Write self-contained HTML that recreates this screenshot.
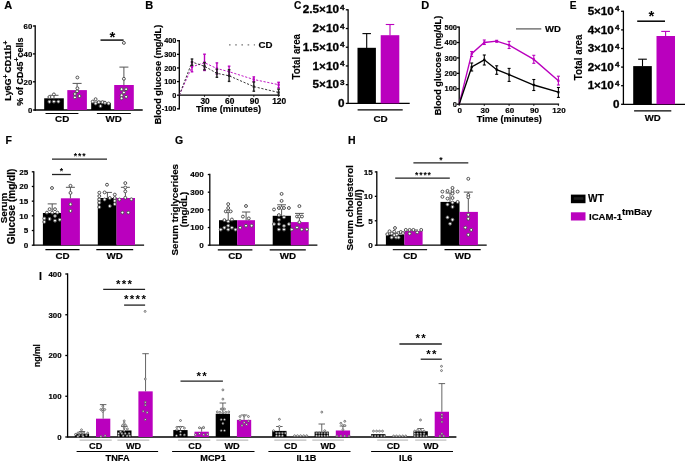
<!DOCTYPE html>
<html><head><meta charset="utf-8"><title>Figure</title>
<style>
html,body{margin:0;padding:0;background:#fff;}
svg{display:block;will-change:transform;font-family:"Liberation Sans",sans-serif;}
</style></head>
<body>
<svg width="685" height="462" viewBox="0 0 685 462">
<rect width="685" height="462" fill="#fff"/>
<text transform="translate(4.20 8.90)" font-size="11" text-anchor="start" font-weight="bold" fill="#000"  stroke="#000" stroke-width="0.18">A</text>
<text transform="translate(145.30 8.90)" font-size="11" text-anchor="start" font-weight="bold" fill="#000"  stroke="#000" stroke-width="0.18">B</text>
<text transform="translate(294.00 8.60)" font-size="10.2" text-anchor="start" font-weight="bold" fill="#000"  stroke="#000" stroke-width="0.18">C</text>
<text transform="translate(421.30 8.90)" font-size="11" text-anchor="start" font-weight="bold" fill="#000"  stroke="#000" stroke-width="0.18">D</text>
<text transform="translate(569.80 8.60)" font-size="10.2" text-anchor="start" font-weight="bold" fill="#000"  stroke="#000" stroke-width="0.18">E</text>
<text transform="translate(5.60 143.70)" font-size="10.5" text-anchor="start" font-weight="bold" fill="#000"  stroke="#000" stroke-width="0.18">F</text>
<text transform="translate(175.00 143.70)" font-size="10.5" text-anchor="start" font-weight="bold" fill="#000"  stroke="#000" stroke-width="0.18">G</text>
<text transform="translate(348.00 143.70)" font-size="10.5" text-anchor="start" font-weight="bold" fill="#000"  stroke="#000" stroke-width="0.18">H</text>
<text transform="translate(39.00 280.30)" font-size="10.5" text-anchor="start" font-weight="bold" fill="#000"  stroke="#000" stroke-width="0.18">I</text>
<line x1="35.20" y1="25.35" x2="35.20" y2="110.65" stroke="#000" stroke-width="1.3" />
<line x1="32.90" y1="26.00" x2="35.20" y2="26.00" stroke="#000" stroke-width="1.3" />
<text transform="translate(32.30 28.80)" font-size="7.8" text-anchor="end" font-weight="bold" fill="#000"  stroke="#000" stroke-width="0.18">60</text>
<line x1="32.90" y1="53.90" x2="35.20" y2="53.90" stroke="#000" stroke-width="1.3" />
<text transform="translate(32.30 56.70)" font-size="7.8" text-anchor="end" font-weight="bold" fill="#000"  stroke="#000" stroke-width="0.18">40</text>
<line x1="32.90" y1="81.80" x2="35.20" y2="81.80" stroke="#000" stroke-width="1.3" />
<text transform="translate(32.30 84.60)" font-size="7.8" text-anchor="end" font-weight="bold" fill="#000"  stroke="#000" stroke-width="0.18">20</text>
<line x1="32.90" y1="110.00" x2="35.20" y2="110.00" stroke="#000" stroke-width="1.3" />
<text transform="translate(32.30 112.80)" font-size="7.8" text-anchor="end" font-weight="bold" fill="#000"  stroke="#000" stroke-width="0.18">0</text>
<line x1="34.55" y1="110.00" x2="142.70" y2="110.00" stroke="#000" stroke-width="1.3" />
<text transform="translate(11.20 70.70) rotate(-90)" font-size="9.0" text-anchor="middle" font-weight="bold" fill="#000"  stroke="#000" stroke-width="0.18">Ly6G<tspan font-size="7" dy="-3.2">+</tspan><tspan dy="3.2" dx="1.6">CD11b</tspan><tspan font-size="7" dy="-3.2">+</tspan></text>
<text transform="translate(22.60 71.70) rotate(-90)" font-size="8.95" text-anchor="middle" font-weight="bold" fill="#000"  stroke="#000" stroke-width="0.18">% of CD45<tspan font-size="7" dy="-3.2">+</tspan><tspan dy="3.2">cells</tspan></text>
<rect x="44.20" y="98.30" width="19.60" height="11.70" fill="#000"/>
<rect x="67.30" y="90.10" width="19.60" height="19.90" fill="#BA00BE"/>
<rect x="91.20" y="102.90" width="19.60" height="7.10" fill="#000"/>
<rect x="114.20" y="85.00" width="19.60" height="25.00" fill="#BA00BE"/>
<line x1="54.00" y1="95.30" x2="54.00" y2="98.50" stroke="#555" stroke-width="1.0" />
<line x1="49.50" y1="95.30" x2="58.50" y2="95.30" stroke="#555" stroke-width="1.0" />
<line x1="77.10" y1="83.40" x2="77.10" y2="90.30" stroke="#555" stroke-width="1.0" />
<line x1="72.60" y1="83.40" x2="81.60" y2="83.40" stroke="#555" stroke-width="1.0" />
<line x1="101.00" y1="101.30" x2="101.00" y2="103.00" stroke="#555" stroke-width="1.0" />
<line x1="96.50" y1="101.30" x2="105.50" y2="101.30" stroke="#555" stroke-width="1.0" />
<line x1="123.90" y1="67.10" x2="123.90" y2="85.20" stroke="#555" stroke-width="1.0" />
<line x1="119.40" y1="67.10" x2="128.40" y2="67.10" stroke="#555" stroke-width="1.0" />
<circle cx="49.40" cy="101.80" r="1.45" fill="#fff" stroke="#505050" stroke-width="1.0"/>
<circle cx="53.90" cy="101.60" r="1.45" fill="#fff" stroke="#505050" stroke-width="1.0"/>
<circle cx="58.40" cy="101.60" r="1.45" fill="#fff" stroke="#505050" stroke-width="1.0"/>
<circle cx="49.40" cy="97.00" r="1.45" fill="#fff" stroke="#505050" stroke-width="1.0"/>
<circle cx="53.90" cy="94.40" r="1.45" fill="#fff" stroke="#505050" stroke-width="1.0"/>
<circle cx="74.90" cy="97.40" r="1.45" fill="#fff" stroke="#505050" stroke-width="1.0"/>
<circle cx="79.50" cy="96.10" r="1.45" fill="#fff" stroke="#505050" stroke-width="1.0"/>
<circle cx="74.90" cy="94.00" r="1.45" fill="#fff" stroke="#505050" stroke-width="1.0"/>
<circle cx="77.10" cy="91.20" r="1.45" fill="#fff" stroke="#505050" stroke-width="1.0"/>
<circle cx="77.40" cy="88.30" r="1.45" fill="#fff" stroke="#505050" stroke-width="1.0"/>
<circle cx="77.40" cy="77.50" r="1.45" fill="#fff" stroke="#505050" stroke-width="1.0"/>
<circle cx="92.70" cy="101.60" r="1.45" fill="#fff" stroke="#505050" stroke-width="1.0"/>
<circle cx="95.60" cy="99.20" r="1.45" fill="#fff" stroke="#505050" stroke-width="1.0"/>
<circle cx="95.60" cy="103.50" r="1.45" fill="#fff" stroke="#505050" stroke-width="1.0"/>
<circle cx="98.80" cy="102.20" r="1.45" fill="#fff" stroke="#505050" stroke-width="1.0"/>
<circle cx="100.50" cy="106.10" r="1.45" fill="#fff" stroke="#505050" stroke-width="1.0"/>
<circle cx="102.50" cy="102.20" r="1.45" fill="#fff" stroke="#505050" stroke-width="1.0"/>
<circle cx="105.00" cy="102.90" r="1.45" fill="#fff" stroke="#505050" stroke-width="1.0"/>
<circle cx="108.60" cy="103.50" r="1.45" fill="#fff" stroke="#505050" stroke-width="1.0"/>
<circle cx="121.60" cy="89.20" r="1.45" fill="#fff" stroke="#505050" stroke-width="1.0"/>
<circle cx="126.10" cy="89.20" r="1.45" fill="#fff" stroke="#505050" stroke-width="1.0"/>
<circle cx="123.90" cy="92.50" r="1.45" fill="#fff" stroke="#505050" stroke-width="1.0"/>
<circle cx="121.60" cy="95.30" r="1.45" fill="#fff" stroke="#505050" stroke-width="1.0"/>
<circle cx="126.10" cy="96.80" r="1.45" fill="#fff" stroke="#505050" stroke-width="1.0"/>
<circle cx="121.60" cy="98.30" r="1.45" fill="#fff" stroke="#505050" stroke-width="1.0"/>
<circle cx="123.90" cy="78.80" r="1.45" fill="#fff" stroke="#505050" stroke-width="1.0"/>
<circle cx="123.90" cy="42.90" r="1.45" fill="#fff" stroke="#505050" stroke-width="1.0"/>
<line x1="45.50" y1="113.50" x2="78.40" y2="113.50" stroke="#000" stroke-width="1.2" />
<line x1="96.90" y1="113.50" x2="130.80" y2="113.50" stroke="#000" stroke-width="1.2" />
<text transform="translate(62.20 122.10)" font-size="9.8" text-anchor="middle" font-weight="bold" fill="#000"  stroke="#000" stroke-width="0.18">CD</text>
<text transform="translate(113.70 122.10)" font-size="9.8" text-anchor="middle" font-weight="bold" fill="#000"  stroke="#000" stroke-width="0.18">WD</text>
<line x1="100.50" y1="40.10" x2="123.60" y2="40.10" stroke="#222" stroke-width="1.6" />
<text transform="translate(112.40 41.50)" font-size="15" text-anchor="middle" font-weight="bold" fill="#000" >*</text>
<line x1="179.30" y1="40.07" x2="179.30" y2="109.47" stroke="#000" stroke-width="1.3" />
<line x1="177.00" y1="40.72" x2="179.30" y2="40.72" stroke="#000" stroke-width="1.3" />
<text transform="translate(176.40 43.32)" font-size="7.3" text-anchor="end" font-weight="bold" fill="#000"  stroke="#000" stroke-width="0.18">400</text>
<line x1="177.00" y1="54.34" x2="179.30" y2="54.34" stroke="#000" stroke-width="1.3" />
<text transform="translate(176.40 56.94)" font-size="7.3" text-anchor="end" font-weight="bold" fill="#000"  stroke="#000" stroke-width="0.18">300</text>
<line x1="177.00" y1="67.96" x2="179.30" y2="67.96" stroke="#000" stroke-width="1.3" />
<text transform="translate(176.40 70.56)" font-size="7.3" text-anchor="end" font-weight="bold" fill="#000"  stroke="#000" stroke-width="0.18">200</text>
<line x1="177.00" y1="81.58" x2="179.30" y2="81.58" stroke="#000" stroke-width="1.3" />
<text transform="translate(176.40 84.18)" font-size="7.3" text-anchor="end" font-weight="bold" fill="#000"  stroke="#000" stroke-width="0.18">100</text>
<line x1="177.00" y1="95.20" x2="179.30" y2="95.20" stroke="#000" stroke-width="1.3" />
<text transform="translate(176.40 97.80)" font-size="7.3" text-anchor="end" font-weight="bold" fill="#000"  stroke="#000" stroke-width="0.18">0</text>
<line x1="177.00" y1="108.82" x2="179.30" y2="108.82" stroke="#000" stroke-width="1.3" />
<text transform="translate(176.40 111.42)" font-size="7.3" text-anchor="end" font-weight="bold" fill="#000"  stroke="#000" stroke-width="0.18">-100</text>
<line x1="179.30" y1="95.20" x2="279.30" y2="95.20" stroke="#000" stroke-width="1.3" />
<line x1="204.50" y1="95.20" x2="204.50" y2="96.70" stroke="#000" stroke-width="1.1" />
<text transform="translate(205.10 103.50)" font-size="8.4" text-anchor="middle" font-weight="bold" fill="#000"  stroke="#000" stroke-width="0.18">30</text>
<line x1="229.10" y1="95.20" x2="229.10" y2="96.70" stroke="#000" stroke-width="1.1" />
<text transform="translate(229.70 103.50)" font-size="8.4" text-anchor="middle" font-weight="bold" fill="#000"  stroke="#000" stroke-width="0.18">60</text>
<line x1="253.80" y1="95.20" x2="253.80" y2="96.70" stroke="#000" stroke-width="1.1" />
<text transform="translate(254.40 103.50)" font-size="8.4" text-anchor="middle" font-weight="bold" fill="#000"  stroke="#000" stroke-width="0.18">90</text>
<line x1="278.60" y1="95.20" x2="278.60" y2="96.70" stroke="#000" stroke-width="1.1" />
<text transform="translate(279.20 103.50)" font-size="8.4" text-anchor="middle" font-weight="bold" fill="#000"  stroke="#000" stroke-width="0.18">120</text>
<text transform="translate(228.50 112.00)" font-size="9.2" text-anchor="middle" font-weight="bold" fill="#000"  stroke="#000" stroke-width="0.18">Time (minutes)</text>
<text transform="translate(161.00 74.50) rotate(-90)" font-size="9.2" text-anchor="middle" font-weight="bold" fill="#000"  stroke="#000" stroke-width="0.18">Blood glucose (mg/dL)</text>
<polyline points="179.30,95.20 192.00,66.80 204.50,62.70 216.90,68.50 229.10,71.70 253.80,79.50 278.60,84.70" fill="none" stroke="#BA00BE" stroke-width="0.9" stroke-dasharray="2.2 1.6"/>
<line x1="192.00" y1="62.00" x2="192.00" y2="71.80" stroke="#BA00BE" stroke-width="1.4" />
<line x1="190.70" y1="62.00" x2="193.30" y2="62.00" stroke="#BA00BE" stroke-width="1.4" />
<line x1="190.70" y1="71.80" x2="193.30" y2="71.80" stroke="#BA00BE" stroke-width="1.4" />
<rect x="190.90" y="65.70" width="2.20" height="2.20" fill="#BA00BE"/>
<line x1="204.50" y1="54.20" x2="204.50" y2="70.50" stroke="#BA00BE" stroke-width="1.4" />
<line x1="203.20" y1="54.20" x2="205.80" y2="54.20" stroke="#BA00BE" stroke-width="1.4" />
<line x1="203.20" y1="70.50" x2="205.80" y2="70.50" stroke="#BA00BE" stroke-width="1.4" />
<rect x="203.40" y="61.60" width="2.20" height="2.20" fill="#BA00BE"/>
<line x1="216.90" y1="62.90" x2="216.90" y2="74.00" stroke="#BA00BE" stroke-width="1.4" />
<line x1="215.60" y1="62.90" x2="218.20" y2="62.90" stroke="#BA00BE" stroke-width="1.4" />
<line x1="215.60" y1="74.00" x2="218.20" y2="74.00" stroke="#BA00BE" stroke-width="1.4" />
<rect x="215.80" y="67.40" width="2.20" height="2.20" fill="#BA00BE"/>
<line x1="229.10" y1="66.20" x2="229.10" y2="75.50" stroke="#BA00BE" stroke-width="1.4" />
<line x1="227.80" y1="66.20" x2="230.40" y2="66.20" stroke="#BA00BE" stroke-width="1.4" />
<line x1="227.80" y1="75.50" x2="230.40" y2="75.50" stroke="#BA00BE" stroke-width="1.4" />
<rect x="228.00" y="70.60" width="2.20" height="2.20" fill="#BA00BE"/>
<line x1="253.80" y1="76.90" x2="253.80" y2="81.60" stroke="#BA00BE" stroke-width="1.4" />
<line x1="252.50" y1="76.90" x2="255.10" y2="76.90" stroke="#BA00BE" stroke-width="1.4" />
<line x1="252.50" y1="81.60" x2="255.10" y2="81.60" stroke="#BA00BE" stroke-width="1.4" />
<rect x="252.70" y="78.40" width="2.20" height="2.20" fill="#BA00BE"/>
<line x1="278.60" y1="82.30" x2="278.60" y2="88.00" stroke="#BA00BE" stroke-width="1.4" />
<line x1="277.30" y1="82.30" x2="279.90" y2="82.30" stroke="#BA00BE" stroke-width="1.4" />
<line x1="277.30" y1="88.00" x2="279.90" y2="88.00" stroke="#BA00BE" stroke-width="1.4" />
<rect x="277.50" y="83.60" width="2.20" height="2.20" fill="#BA00BE"/>
<polyline points="179.30,95.20 192.00,62.00 204.50,66.30 216.90,73.30 229.10,75.80 253.80,86.60 278.60,92.50" fill="none" stroke="#222" stroke-width="0.9" stroke-dasharray="2.2 1.6"/>
<line x1="192.00" y1="59.00" x2="192.00" y2="65.30" stroke="#222" stroke-width="1.4" />
<line x1="190.70" y1="59.00" x2="193.30" y2="59.00" stroke="#222" stroke-width="1.4" />
<line x1="190.70" y1="65.30" x2="193.30" y2="65.30" stroke="#222" stroke-width="1.4" />
<rect x="190.90" y="60.90" width="2.20" height="2.20" fill="#222"/>
<line x1="204.50" y1="62.50" x2="204.50" y2="69.80" stroke="#222" stroke-width="1.4" />
<line x1="203.20" y1="62.50" x2="205.80" y2="62.50" stroke="#222" stroke-width="1.4" />
<line x1="203.20" y1="69.80" x2="205.80" y2="69.80" stroke="#222" stroke-width="1.4" />
<rect x="203.40" y="65.20" width="2.20" height="2.20" fill="#222"/>
<line x1="216.90" y1="69.20" x2="216.90" y2="77.30" stroke="#222" stroke-width="1.4" />
<line x1="215.60" y1="69.20" x2="218.20" y2="69.20" stroke="#222" stroke-width="1.4" />
<line x1="215.60" y1="77.30" x2="218.20" y2="77.30" stroke="#222" stroke-width="1.4" />
<rect x="215.80" y="72.20" width="2.20" height="2.20" fill="#222"/>
<line x1="229.10" y1="69.70" x2="229.10" y2="81.40" stroke="#222" stroke-width="1.4" />
<line x1="227.80" y1="69.70" x2="230.40" y2="69.70" stroke="#222" stroke-width="1.4" />
<line x1="227.80" y1="81.40" x2="230.40" y2="81.40" stroke="#222" stroke-width="1.4" />
<rect x="228.00" y="74.70" width="2.20" height="2.20" fill="#222"/>
<line x1="253.80" y1="82.00" x2="253.80" y2="91.20" stroke="#222" stroke-width="1.4" />
<line x1="252.50" y1="82.00" x2="255.10" y2="82.00" stroke="#222" stroke-width="1.4" />
<line x1="252.50" y1="91.20" x2="255.10" y2="91.20" stroke="#222" stroke-width="1.4" />
<rect x="252.70" y="85.50" width="2.20" height="2.20" fill="#222"/>
<line x1="278.60" y1="89.20" x2="278.60" y2="95.30" stroke="#222" stroke-width="1.4" />
<line x1="277.30" y1="89.20" x2="279.90" y2="89.20" stroke="#222" stroke-width="1.4" />
<line x1="277.30" y1="95.30" x2="279.90" y2="95.30" stroke="#222" stroke-width="1.4" />
<rect x="277.50" y="91.40" width="2.20" height="2.20" fill="#222"/>
<line x1="229.00" y1="44.90" x2="255.00" y2="44.90" stroke="#777" stroke-width="1.3" stroke-dasharray="1.6 4.6"/>
<text transform="translate(258.50 48.20)" font-size="9.7" text-anchor="start" font-weight="bold" fill="#000"  stroke="#000" stroke-width="0.18">CD</text>
<line x1="348.10" y1="9.15" x2="348.10" y2="104.05" stroke="#000" stroke-width="1.3" />
<line x1="345.80" y1="9.80" x2="348.10" y2="9.80" stroke="#000" stroke-width="1.3" />
<text transform="translate(344.60 13.40) scale(1.16 1)" font-size="10.1" text-anchor="end" font-weight="bold" fill="#000" stroke="#000" stroke-width="0.3">2.5×10<tspan font-size="7" dy="-3.6" dx="1.0">4</tspan></text>
<line x1="345.80" y1="28.52" x2="348.10" y2="28.52" stroke="#000" stroke-width="1.3" />
<text transform="translate(344.60 32.12) scale(1.16 1)" font-size="10.1" text-anchor="end" font-weight="bold" fill="#000" stroke="#000" stroke-width="0.3">2×10<tspan font-size="7" dy="-3.6" dx="1.0">4</tspan></text>
<line x1="345.80" y1="47.24" x2="348.10" y2="47.24" stroke="#000" stroke-width="1.3" />
<text transform="translate(344.60 50.84) scale(1.16 1)" font-size="10.1" text-anchor="end" font-weight="bold" fill="#000" stroke="#000" stroke-width="0.3">1.5×10<tspan font-size="7" dy="-3.6" dx="1.0">4</tspan></text>
<line x1="345.80" y1="65.96" x2="348.10" y2="65.96" stroke="#000" stroke-width="1.3" />
<text transform="translate(344.60 69.56) scale(1.16 1)" font-size="10.1" text-anchor="end" font-weight="bold" fill="#000" stroke="#000" stroke-width="0.3">1×10<tspan font-size="7" dy="-3.6" dx="1.0">4</tspan></text>
<line x1="345.80" y1="84.68" x2="348.10" y2="84.68" stroke="#000" stroke-width="1.3" />
<text transform="translate(344.60 88.28) scale(1.16 1)" font-size="10.1" text-anchor="end" font-weight="bold" fill="#000" stroke="#000" stroke-width="0.3">5×10<tspan font-size="7" dy="-3.6" dx="1.0">3</tspan></text>
<line x1="345.80" y1="103.40" x2="348.10" y2="103.40" stroke="#000" stroke-width="1.3" />
<text transform="translate(344.60 107.00) scale(1.16 1)" font-size="10.1" text-anchor="end" font-weight="bold" fill="#000" stroke="#000" stroke-width="0.3">0</text>
<line x1="348.10" y1="103.40" x2="409.70" y2="103.40" stroke="#000" stroke-width="1.3" />
<rect x="357.50" y="47.80" width="18.40" height="55.60" fill="#000"/>
<rect x="380.70" y="35.20" width="18.60" height="68.20" fill="#BA00BE"/>
<line x1="366.70" y1="33.60" x2="366.70" y2="48.00" stroke="#000" stroke-width="1.1" />
<line x1="362.45" y1="33.60" x2="370.95" y2="33.60" stroke="#000" stroke-width="1.1" />
<line x1="390.00" y1="24.50" x2="390.00" y2="35.40" stroke="#BA00BE" stroke-width="1.1" />
<line x1="385.75" y1="24.50" x2="394.25" y2="24.50" stroke="#BA00BE" stroke-width="1.1" />
<line x1="357.60" y1="109.90" x2="402.70" y2="109.90" stroke="#000" stroke-width="1.2" />
<text transform="translate(380.50 121.80)" font-size="9.9" text-anchor="middle" font-weight="bold" fill="#000"  stroke="#000" stroke-width="0.18">CD</text>
<text transform="translate(300.10 56.70) rotate(-90) scale(0.97 1)" font-size="10.1" text-anchor="middle" font-weight="bold" fill="#000" stroke="#000" stroke-width="0.12">Total area</text>
<line x1="459.20" y1="26.45" x2="459.20" y2="104.85" stroke="#000" stroke-width="1.3" />
<line x1="456.90" y1="27.10" x2="459.20" y2="27.10" stroke="#000" stroke-width="1.3" />
<text transform="translate(457.00 29.80)" font-size="7.5" text-anchor="end" font-weight="bold" fill="#000"  stroke="#000" stroke-width="0.18">500</text>
<line x1="456.90" y1="42.52" x2="459.20" y2="42.52" stroke="#000" stroke-width="1.3" />
<text transform="translate(457.00 45.22)" font-size="7.5" text-anchor="end" font-weight="bold" fill="#000"  stroke="#000" stroke-width="0.18">400</text>
<line x1="456.90" y1="57.94" x2="459.20" y2="57.94" stroke="#000" stroke-width="1.3" />
<text transform="translate(457.00 60.64)" font-size="7.5" text-anchor="end" font-weight="bold" fill="#000"  stroke="#000" stroke-width="0.18">300</text>
<line x1="456.90" y1="73.36" x2="459.20" y2="73.36" stroke="#000" stroke-width="1.3" />
<text transform="translate(457.00 76.06)" font-size="7.5" text-anchor="end" font-weight="bold" fill="#000"  stroke="#000" stroke-width="0.18">200</text>
<line x1="456.90" y1="88.78" x2="459.20" y2="88.78" stroke="#000" stroke-width="1.3" />
<text transform="translate(457.00 91.48)" font-size="7.5" text-anchor="end" font-weight="bold" fill="#000"  stroke="#000" stroke-width="0.18">100</text>
<line x1="456.90" y1="104.20" x2="459.20" y2="104.20" stroke="#000" stroke-width="1.3" />
<text transform="translate(457.00 106.90)" font-size="7.5" text-anchor="end" font-weight="bold" fill="#000"  stroke="#000" stroke-width="0.18">0</text>
<line x1="459.20" y1="104.20" x2="559.10" y2="104.20" stroke="#000" stroke-width="1.3" />
<line x1="459.20" y1="104.20" x2="459.20" y2="105.70" stroke="#000" stroke-width="1.1" />
<text transform="translate(459.80 112.80)" font-size="8.0" text-anchor="middle" font-weight="bold" fill="#000"  stroke="#000" stroke-width="0.18">0</text>
<line x1="484.30" y1="104.20" x2="484.30" y2="105.70" stroke="#000" stroke-width="1.1" />
<text transform="translate(484.90 112.80)" font-size="8.0" text-anchor="middle" font-weight="bold" fill="#000"  stroke="#000" stroke-width="0.18">30</text>
<line x1="509.10" y1="104.20" x2="509.10" y2="105.70" stroke="#000" stroke-width="1.1" />
<text transform="translate(509.70 112.80)" font-size="8.0" text-anchor="middle" font-weight="bold" fill="#000"  stroke="#000" stroke-width="0.18">60</text>
<line x1="533.80" y1="104.20" x2="533.80" y2="105.70" stroke="#000" stroke-width="1.1" />
<text transform="translate(534.40 112.80)" font-size="8.0" text-anchor="middle" font-weight="bold" fill="#000"  stroke="#000" stroke-width="0.18">90</text>
<line x1="558.40" y1="104.20" x2="558.40" y2="105.70" stroke="#000" stroke-width="1.1" />
<text transform="translate(559.00 112.80)" font-size="8.0" text-anchor="middle" font-weight="bold" fill="#000"  stroke="#000" stroke-width="0.18">120</text>
<text transform="translate(509.30 121.90)" font-size="9.2" text-anchor="middle" font-weight="bold" fill="#000"  stroke="#000" stroke-width="0.18">Time (minutes)</text>
<text transform="translate(441.20 65.50) rotate(-90)" font-size="9.2" text-anchor="middle" font-weight="bold" fill="#000"  stroke="#000" stroke-width="0.18">Blood glucose (mg/dL)</text>
<polyline points="459.20,104.20 471.70,53.70 484.30,42.50 496.70,41.20 509.10,45.10 533.80,59.40 558.40,80.80" fill="none" stroke="#BA00BE" stroke-width="1.35" />
<line x1="471.70" y1="51.50" x2="471.70" y2="56.50" stroke="#BA00BE" stroke-width="1.1" />
<line x1="470.20" y1="51.50" x2="473.20" y2="51.50" stroke="#BA00BE" stroke-width="1.1" />
<line x1="470.20" y1="56.50" x2="473.20" y2="56.50" stroke="#BA00BE" stroke-width="1.1" />
<rect x="470.60" y="52.60" width="2.20" height="2.20" fill="#BA00BE"/>
<line x1="484.30" y1="40.00" x2="484.30" y2="44.50" stroke="#BA00BE" stroke-width="1.1" />
<line x1="482.80" y1="40.00" x2="485.80" y2="40.00" stroke="#BA00BE" stroke-width="1.1" />
<line x1="482.80" y1="44.50" x2="485.80" y2="44.50" stroke="#BA00BE" stroke-width="1.1" />
<rect x="483.20" y="41.40" width="2.20" height="2.20" fill="#BA00BE"/>
<line x1="496.70" y1="40.30" x2="496.70" y2="42.20" stroke="#BA00BE" stroke-width="1.1" />
<line x1="495.20" y1="40.30" x2="498.20" y2="40.30" stroke="#BA00BE" stroke-width="1.1" />
<line x1="495.20" y1="42.20" x2="498.20" y2="42.20" stroke="#BA00BE" stroke-width="1.1" />
<rect x="495.60" y="40.10" width="2.20" height="2.20" fill="#BA00BE"/>
<line x1="509.10" y1="41.40" x2="509.10" y2="48.50" stroke="#BA00BE" stroke-width="1.1" />
<line x1="507.60" y1="41.40" x2="510.60" y2="41.40" stroke="#BA00BE" stroke-width="1.1" />
<line x1="507.60" y1="48.50" x2="510.60" y2="48.50" stroke="#BA00BE" stroke-width="1.1" />
<rect x="508.00" y="44.00" width="2.20" height="2.20" fill="#BA00BE"/>
<line x1="533.80" y1="55.30" x2="533.80" y2="63.30" stroke="#BA00BE" stroke-width="1.1" />
<line x1="532.30" y1="55.30" x2="535.30" y2="55.30" stroke="#BA00BE" stroke-width="1.1" />
<line x1="532.30" y1="63.30" x2="535.30" y2="63.30" stroke="#BA00BE" stroke-width="1.1" />
<rect x="532.70" y="58.30" width="2.20" height="2.20" fill="#BA00BE"/>
<line x1="558.40" y1="76.20" x2="558.40" y2="85.00" stroke="#BA00BE" stroke-width="1.1" />
<line x1="556.90" y1="76.20" x2="559.90" y2="76.20" stroke="#BA00BE" stroke-width="1.1" />
<line x1="556.90" y1="85.00" x2="559.90" y2="85.00" stroke="#BA00BE" stroke-width="1.1" />
<rect x="557.30" y="79.70" width="2.20" height="2.20" fill="#BA00BE"/>
<polyline points="459.20,104.20 471.70,67.00 484.30,59.80 496.70,69.70 509.10,74.70 533.80,85.00 558.40,92.20" fill="none" stroke="#000" stroke-width="1.35" />
<line x1="471.70" y1="63.00" x2="471.70" y2="71.00" stroke="#000" stroke-width="1.1" />
<line x1="470.20" y1="63.00" x2="473.20" y2="63.00" stroke="#000" stroke-width="1.1" />
<line x1="470.20" y1="71.00" x2="473.20" y2="71.00" stroke="#000" stroke-width="1.1" />
<rect x="470.60" y="65.90" width="2.20" height="2.20" fill="#000"/>
<line x1="484.30" y1="55.00" x2="484.30" y2="65.00" stroke="#000" stroke-width="1.1" />
<line x1="482.80" y1="55.00" x2="485.80" y2="55.00" stroke="#000" stroke-width="1.1" />
<line x1="482.80" y1="65.00" x2="485.80" y2="65.00" stroke="#000" stroke-width="1.1" />
<rect x="483.20" y="58.70" width="2.20" height="2.20" fill="#000"/>
<line x1="496.70" y1="65.80" x2="496.70" y2="74.30" stroke="#000" stroke-width="1.1" />
<line x1="495.20" y1="65.80" x2="498.20" y2="65.80" stroke="#000" stroke-width="1.1" />
<line x1="495.20" y1="74.30" x2="498.20" y2="74.30" stroke="#000" stroke-width="1.1" />
<rect x="495.60" y="68.60" width="2.20" height="2.20" fill="#000"/>
<line x1="509.10" y1="68.40" x2="509.10" y2="81.40" stroke="#000" stroke-width="1.1" />
<line x1="507.60" y1="68.40" x2="510.60" y2="68.40" stroke="#000" stroke-width="1.1" />
<line x1="507.60" y1="81.40" x2="510.60" y2="81.40" stroke="#000" stroke-width="1.1" />
<rect x="508.00" y="73.60" width="2.20" height="2.20" fill="#000"/>
<line x1="533.80" y1="79.50" x2="533.80" y2="90.50" stroke="#000" stroke-width="1.1" />
<line x1="532.30" y1="79.50" x2="535.30" y2="79.50" stroke="#000" stroke-width="1.1" />
<line x1="532.30" y1="90.50" x2="535.30" y2="90.50" stroke="#000" stroke-width="1.1" />
<rect x="532.70" y="83.90" width="2.20" height="2.20" fill="#000"/>
<line x1="558.40" y1="87.50" x2="558.40" y2="97.40" stroke="#000" stroke-width="1.1" />
<line x1="556.90" y1="87.50" x2="559.90" y2="87.50" stroke="#000" stroke-width="1.1" />
<line x1="556.90" y1="97.40" x2="559.90" y2="97.40" stroke="#000" stroke-width="1.1" />
<rect x="557.30" y="91.10" width="2.20" height="2.20" fill="#000"/>
<line x1="516.00" y1="28.90" x2="541.30" y2="28.90" stroke="#555" stroke-width="1.2" />
<text transform="translate(545.00 31.70)" font-size="9.5" text-anchor="start" font-weight="bold" fill="#000"  stroke="#000" stroke-width="0.18">WD</text>
<line x1="623.40" y1="10.65" x2="623.40" y2="104.95" stroke="#000" stroke-width="1.3" />
<line x1="621.10" y1="11.30" x2="623.40" y2="11.30" stroke="#000" stroke-width="1.3" />
<text transform="translate(619.40 14.90) scale(1.15 1)" font-size="10.1" text-anchor="end" font-weight="bold" fill="#000" stroke="#000" stroke-width="0.3">5×10<tspan font-size="7" dy="-3.6" dx="1.0">4</tspan></text>
<line x1="621.10" y1="29.90" x2="623.40" y2="29.90" stroke="#000" stroke-width="1.3" />
<text transform="translate(619.40 33.50) scale(1.15 1)" font-size="10.1" text-anchor="end" font-weight="bold" fill="#000" stroke="#000" stroke-width="0.3">4×10<tspan font-size="7" dy="-3.6" dx="1.0">4</tspan></text>
<line x1="621.10" y1="48.50" x2="623.40" y2="48.50" stroke="#000" stroke-width="1.3" />
<text transform="translate(619.40 52.10) scale(1.15 1)" font-size="10.1" text-anchor="end" font-weight="bold" fill="#000" stroke="#000" stroke-width="0.3">3×10<tspan font-size="7" dy="-3.6" dx="1.0">4</tspan></text>
<line x1="621.10" y1="67.10" x2="623.40" y2="67.10" stroke="#000" stroke-width="1.3" />
<text transform="translate(619.40 70.70) scale(1.15 1)" font-size="10.1" text-anchor="end" font-weight="bold" fill="#000" stroke="#000" stroke-width="0.3">2×10<tspan font-size="7" dy="-3.6" dx="1.0">4</tspan></text>
<line x1="621.10" y1="85.70" x2="623.40" y2="85.70" stroke="#000" stroke-width="1.3" />
<text transform="translate(619.40 89.30) scale(1.15 1)" font-size="10.1" text-anchor="end" font-weight="bold" fill="#000" stroke="#000" stroke-width="0.3">1×10<tspan font-size="7" dy="-3.6" dx="1.0">4</tspan></text>
<line x1="621.10" y1="104.30" x2="623.40" y2="104.30" stroke="#000" stroke-width="1.3" />
<text transform="translate(619.40 107.90) scale(1.15 1)" font-size="10.1" text-anchor="end" font-weight="bold" fill="#000" stroke="#000" stroke-width="0.3">0</text>
<line x1="623.40" y1="104.30" x2="685.00" y2="104.30" stroke="#000" stroke-width="1.3" />
<rect x="633.20" y="66.10" width="18.60" height="38.20" fill="#000"/>
<rect x="656.50" y="36.00" width="18.50" height="68.30" fill="#BA00BE"/>
<line x1="642.50" y1="59.20" x2="642.50" y2="66.30" stroke="#000" stroke-width="1.1" />
<line x1="638.15" y1="59.20" x2="646.85" y2="59.20" stroke="#000" stroke-width="1.1" />
<line x1="665.60" y1="31.40" x2="665.60" y2="36.20" stroke="#BA00BE" stroke-width="1.1" />
<line x1="661.25" y1="31.40" x2="669.95" y2="31.40" stroke="#BA00BE" stroke-width="1.1" />
<line x1="637.20" y1="21.20" x2="665.00" y2="21.20" stroke="#000" stroke-width="1.5" />
<text transform="translate(651.40 21.30)" font-size="15" text-anchor="middle" font-weight="bold" fill="#000" >*</text>
<line x1="634.10" y1="110.80" x2="671.30" y2="110.80" stroke="#000" stroke-width="1.2" />
<text transform="translate(652.80 121.20)" font-size="9.6" text-anchor="middle" font-weight="bold" fill="#000"  stroke="#000" stroke-width="0.18">WD</text>
<text transform="translate(582.40 57.40) rotate(-90) scale(0.97 1)" font-size="10.1" text-anchor="middle" font-weight="bold" fill="#000" stroke="#000" stroke-width="0.12">Total area</text>
<line x1="33.80" y1="171.15" x2="33.80" y2="245.85" stroke="#000" stroke-width="1.3" />
<line x1="31.80" y1="171.80" x2="33.80" y2="171.80" stroke="#000" stroke-width="1.3" />
<text transform="translate(28.30 174.60)" font-size="8.1" text-anchor="end" font-weight="bold" fill="#000"  stroke="#000" stroke-width="0.18">25</text>
<line x1="31.80" y1="186.48" x2="33.80" y2="186.48" stroke="#000" stroke-width="1.3" />
<text transform="translate(28.30 189.28)" font-size="8.1" text-anchor="end" font-weight="bold" fill="#000"  stroke="#000" stroke-width="0.18">20</text>
<line x1="31.80" y1="201.16" x2="33.80" y2="201.16" stroke="#000" stroke-width="1.3" />
<text transform="translate(28.30 203.96)" font-size="8.1" text-anchor="end" font-weight="bold" fill="#000"  stroke="#000" stroke-width="0.18">15</text>
<line x1="31.80" y1="215.84" x2="33.80" y2="215.84" stroke="#000" stroke-width="1.3" />
<text transform="translate(28.30 218.64)" font-size="8.1" text-anchor="end" font-weight="bold" fill="#000"  stroke="#000" stroke-width="0.18">10</text>
<line x1="31.80" y1="230.52" x2="33.80" y2="230.52" stroke="#000" stroke-width="1.3" />
<text transform="translate(28.30 233.32)" font-size="8.1" text-anchor="end" font-weight="bold" fill="#000"  stroke="#000" stroke-width="0.18">5</text>
<line x1="31.80" y1="245.20" x2="33.80" y2="245.20" stroke="#000" stroke-width="1.3" />
<text transform="translate(28.30 248.00)" font-size="8.1" text-anchor="end" font-weight="bold" fill="#000"  stroke="#000" stroke-width="0.18">0</text>
<line x1="33.80" y1="245.20" x2="144.10" y2="245.20" stroke="#000" stroke-width="1.3" />
<rect x="42.90" y="213.00" width="18.20" height="32.20" fill="#000"/>
<rect x="60.90" y="198.30" width="19.00" height="46.90" fill="#BA00BE"/>
<rect x="97.80" y="198.00" width="18.80" height="47.20" fill="#000"/>
<rect x="116.50" y="198.00" width="18.50" height="47.20" fill="#BA00BE"/>
<line x1="52.20" y1="203.90" x2="52.20" y2="213.20" stroke="#555" stroke-width="1.0" />
<line x1="47.70" y1="203.90" x2="56.70" y2="203.90" stroke="#555" stroke-width="1.0" />
<line x1="70.40" y1="187.30" x2="70.40" y2="198.50" stroke="#555" stroke-width="1.0" />
<line x1="65.90" y1="187.30" x2="74.90" y2="187.30" stroke="#555" stroke-width="1.0" />
<line x1="107.40" y1="192.40" x2="107.40" y2="198.50" stroke="#555" stroke-width="1.0" />
<line x1="102.90" y1="192.40" x2="111.90" y2="192.40" stroke="#555" stroke-width="1.0" />
<line x1="125.40" y1="187.30" x2="125.40" y2="198.50" stroke="#555" stroke-width="1.0" />
<line x1="120.90" y1="187.30" x2="129.90" y2="187.30" stroke="#555" stroke-width="1.0" />
<circle cx="52.00" cy="188.00" r="1.45" fill="#fff" stroke="#505050" stroke-width="1.0"/>
<circle cx="49.60" cy="209.20" r="1.45" fill="#fff" stroke="#505050" stroke-width="1.0"/>
<circle cx="55.00" cy="209.20" r="1.45" fill="#fff" stroke="#505050" stroke-width="1.0"/>
<circle cx="46.90" cy="212.60" r="1.45" fill="#fff" stroke="#505050" stroke-width="1.0"/>
<circle cx="52.20" cy="212.60" r="1.45" fill="#fff" stroke="#505050" stroke-width="1.0"/>
<circle cx="57.40" cy="212.60" r="1.45" fill="#fff" stroke="#505050" stroke-width="1.0"/>
<circle cx="55.00" cy="216.00" r="1.45" fill="#fff" stroke="#505050" stroke-width="1.0"/>
<circle cx="44.30" cy="218.50" r="1.45" fill="#fff" stroke="#505050" stroke-width="1.0"/>
<circle cx="49.60" cy="219.00" r="1.45" fill="#fff" stroke="#505050" stroke-width="1.0"/>
<circle cx="59.80" cy="219.70" r="1.45" fill="#fff" stroke="#505050" stroke-width="1.0"/>
<circle cx="55.00" cy="220.70" r="1.45" fill="#fff" stroke="#505050" stroke-width="1.0"/>
<circle cx="44.30" cy="221.90" r="1.45" fill="#fff" stroke="#505050" stroke-width="1.0"/>
<circle cx="70.50" cy="185.80" r="1.45" fill="#fff" stroke="#505050" stroke-width="1.0"/>
<circle cx="70.50" cy="192.90" r="1.45" fill="#fff" stroke="#505050" stroke-width="1.0"/>
<circle cx="70.50" cy="204.30" r="1.45" fill="#fff" stroke="#505050" stroke-width="1.0"/>
<circle cx="70.50" cy="210.90" r="1.45" fill="#fff" stroke="#505050" stroke-width="1.0"/>
<circle cx="107.00" cy="184.70" r="1.45" fill="#fff" stroke="#505050" stroke-width="1.0"/>
<circle cx="99.30" cy="192.70" r="1.45" fill="#fff" stroke="#505050" stroke-width="1.0"/>
<circle cx="104.60" cy="192.40" r="1.45" fill="#fff" stroke="#505050" stroke-width="1.0"/>
<circle cx="114.80" cy="194.60" r="1.45" fill="#fff" stroke="#505050" stroke-width="1.0"/>
<circle cx="99.30" cy="196.10" r="1.45" fill="#fff" stroke="#505050" stroke-width="1.0"/>
<circle cx="99.30" cy="199.50" r="1.45" fill="#fff" stroke="#505050" stroke-width="1.0"/>
<circle cx="104.60" cy="199.50" r="1.45" fill="#fff" stroke="#505050" stroke-width="1.0"/>
<circle cx="109.80" cy="198.00" r="1.45" fill="#fff" stroke="#505050" stroke-width="1.0"/>
<circle cx="114.80" cy="198.00" r="1.45" fill="#fff" stroke="#505050" stroke-width="1.0"/>
<circle cx="99.30" cy="202.70" r="1.45" fill="#fff" stroke="#505050" stroke-width="1.0"/>
<circle cx="114.80" cy="200.90" r="1.45" fill="#fff" stroke="#505050" stroke-width="1.0"/>
<circle cx="114.80" cy="204.10" r="1.45" fill="#fff" stroke="#505050" stroke-width="1.0"/>
<circle cx="109.80" cy="206.10" r="1.45" fill="#fff" stroke="#505050" stroke-width="1.0"/>
<circle cx="99.30" cy="207.10" r="1.45" fill="#fff" stroke="#505050" stroke-width="1.0"/>
<circle cx="125.30" cy="183.10" r="1.45" fill="#fff" stroke="#505050" stroke-width="1.0"/>
<circle cx="125.30" cy="187.50" r="1.45" fill="#fff" stroke="#505050" stroke-width="1.0"/>
<circle cx="125.30" cy="191.40" r="1.45" fill="#fff" stroke="#505050" stroke-width="1.0"/>
<circle cx="125.30" cy="197.80" r="1.45" fill="#fff" stroke="#505050" stroke-width="1.0"/>
<circle cx="119.50" cy="199.50" r="1.45" fill="#fff" stroke="#505050" stroke-width="1.0"/>
<circle cx="131.40" cy="199.30" r="1.45" fill="#fff" stroke="#505050" stroke-width="1.0"/>
<circle cx="122.40" cy="212.60" r="1.45" fill="#fff" stroke="#505050" stroke-width="1.0"/>
<circle cx="128.30" cy="212.60" r="1.45" fill="#fff" stroke="#505050" stroke-width="1.0"/>
<line x1="45.40" y1="249.70" x2="79.50" y2="249.70" stroke="#000" stroke-width="1.2" />
<line x1="96.30" y1="249.70" x2="133.20" y2="249.70" stroke="#000" stroke-width="1.2" />
<text transform="translate(62.50 258.60)" font-size="9.8" text-anchor="middle" font-weight="bold" fill="#000"  stroke="#000" stroke-width="0.18">CD</text>
<text transform="translate(114.70 258.60)" font-size="9.8" text-anchor="middle" font-weight="bold" fill="#000"  stroke="#000" stroke-width="0.18">WD</text>
<line x1="52.00" y1="159.10" x2="107.00" y2="159.10" stroke="#222" stroke-width="1.3" />
<line x1="52.00" y1="174.50" x2="70.80" y2="174.50" stroke="#222" stroke-width="1.3" />
<text transform="translate(80.10 158.60)" font-size="8.6" text-anchor="middle" font-weight="bold" fill="#000" letter-spacing="0.85">***</text>
<text transform="translate(61.40 174.30)" font-size="8.6" text-anchor="middle" font-weight="bold" fill="#000" >*</text>
<text transform="translate(6.80 208.00) rotate(-90)" font-size="9.9" text-anchor="middle" font-weight="bold" fill="#000"  stroke="#000" stroke-width="0.18">Serum</text>
<text transform="translate(15.30 206.50) rotate(-90)" font-size="10" text-anchor="middle" font-weight="bold" fill="#000"  stroke="#000" stroke-width="0.18">Glucose (mg/dl)</text>
<line x1="209.80" y1="173.87" x2="209.80" y2="245.85" stroke="#000" stroke-width="1.3" />
<line x1="207.80" y1="174.52" x2="209.80" y2="174.52" stroke="#000" stroke-width="1.3" />
<text transform="translate(203.80 177.32)" font-size="8.1" text-anchor="end" font-weight="bold" fill="#000"  stroke="#000" stroke-width="0.18">400</text>
<line x1="207.80" y1="192.19" x2="209.80" y2="192.19" stroke="#000" stroke-width="1.3" />
<text transform="translate(203.80 194.99)" font-size="8.1" text-anchor="end" font-weight="bold" fill="#000"  stroke="#000" stroke-width="0.18">300</text>
<line x1="207.80" y1="209.86" x2="209.80" y2="209.86" stroke="#000" stroke-width="1.3" />
<text transform="translate(203.80 212.66)" font-size="8.1" text-anchor="end" font-weight="bold" fill="#000"  stroke="#000" stroke-width="0.18">200</text>
<line x1="207.80" y1="227.53" x2="209.80" y2="227.53" stroke="#000" stroke-width="1.3" />
<text transform="translate(203.80 230.33)" font-size="8.1" text-anchor="end" font-weight="bold" fill="#000"  stroke="#000" stroke-width="0.18">100</text>
<line x1="207.80" y1="245.20" x2="209.80" y2="245.20" stroke="#000" stroke-width="1.3" />
<text transform="translate(203.80 248.00)" font-size="8.1" text-anchor="end" font-weight="bold" fill="#000"  stroke="#000" stroke-width="0.18">0</text>
<line x1="209.80" y1="245.20" x2="317.40" y2="245.20" stroke="#000" stroke-width="1.3" />
<rect x="219.00" y="220.20" width="18.20" height="25.00" fill="#000"/>
<rect x="237.20" y="220.20" width="17.80" height="25.00" fill="#BA00BE"/>
<rect x="272.70" y="215.80" width="18.20" height="29.40" fill="#000"/>
<rect x="290.90" y="222.10" width="17.80" height="23.10" fill="#BA00BE"/>
<line x1="228.20" y1="211.30" x2="228.20" y2="220.40" stroke="#555" stroke-width="1.0" />
<line x1="224.05" y1="211.30" x2="232.35" y2="211.30" stroke="#555" stroke-width="1.0" />
<line x1="246.10" y1="212.00" x2="246.10" y2="220.40" stroke="#555" stroke-width="1.0" />
<line x1="241.95" y1="212.00" x2="250.25" y2="212.00" stroke="#555" stroke-width="1.0" />
<line x1="281.60" y1="204.80" x2="281.60" y2="216.00" stroke="#555" stroke-width="1.0" />
<line x1="277.20" y1="204.80" x2="286.00" y2="204.80" stroke="#555" stroke-width="1.0" />
<line x1="299.40" y1="213.40" x2="299.40" y2="222.30" stroke="#555" stroke-width="1.0" />
<line x1="295.00" y1="213.40" x2="303.80" y2="213.40" stroke="#555" stroke-width="1.0" />
<circle cx="228.20" cy="204.10" r="1.45" fill="#fff" stroke="#505050" stroke-width="1.0"/>
<circle cx="228.20" cy="208.00" r="1.45" fill="#fff" stroke="#505050" stroke-width="1.0"/>
<circle cx="225.80" cy="211.40" r="1.45" fill="#fff" stroke="#505050" stroke-width="1.0"/>
<circle cx="228.20" cy="211.40" r="1.45" fill="#fff" stroke="#505050" stroke-width="1.0"/>
<circle cx="230.60" cy="211.40" r="1.45" fill="#fff" stroke="#505050" stroke-width="1.0"/>
<circle cx="224.40" cy="220.10" r="1.45" fill="#fff" stroke="#505050" stroke-width="1.0"/>
<circle cx="231.90" cy="219.50" r="1.45" fill="#fff" stroke="#505050" stroke-width="1.0"/>
<circle cx="228.20" cy="221.40" r="1.45" fill="#fff" stroke="#505050" stroke-width="1.0"/>
<circle cx="228.20" cy="225.70" r="1.45" fill="#fff" stroke="#505050" stroke-width="1.0"/>
<circle cx="224.40" cy="227.70" r="1.45" fill="#fff" stroke="#505050" stroke-width="1.0"/>
<circle cx="231.90" cy="227.70" r="1.45" fill="#fff" stroke="#505050" stroke-width="1.0"/>
<circle cx="220.70" cy="229.60" r="1.45" fill="#fff" stroke="#505050" stroke-width="1.0"/>
<circle cx="228.20" cy="229.60" r="1.45" fill="#fff" stroke="#505050" stroke-width="1.0"/>
<circle cx="235.50" cy="229.60" r="1.45" fill="#fff" stroke="#505050" stroke-width="1.0"/>
<circle cx="246.00" cy="206.00" r="1.45" fill="#fff" stroke="#505050" stroke-width="1.0"/>
<circle cx="242.90" cy="216.60" r="1.45" fill="#fff" stroke="#505050" stroke-width="1.0"/>
<circle cx="248.80" cy="218.40" r="1.45" fill="#fff" stroke="#505050" stroke-width="1.0"/>
<circle cx="240.10" cy="227.70" r="1.45" fill="#fff" stroke="#505050" stroke-width="1.0"/>
<circle cx="246.00" cy="225.70" r="1.45" fill="#fff" stroke="#505050" stroke-width="1.0"/>
<circle cx="251.60" cy="225.70" r="1.45" fill="#fff" stroke="#505050" stroke-width="1.0"/>
<circle cx="281.60" cy="193.90" r="1.45" fill="#fff" stroke="#505050" stroke-width="1.0"/>
<circle cx="281.60" cy="200.90" r="1.45" fill="#fff" stroke="#505050" stroke-width="1.0"/>
<circle cx="278.90" cy="208.00" r="1.45" fill="#fff" stroke="#505050" stroke-width="1.0"/>
<circle cx="281.60" cy="208.00" r="1.45" fill="#fff" stroke="#505050" stroke-width="1.0"/>
<circle cx="284.00" cy="208.00" r="1.45" fill="#fff" stroke="#505050" stroke-width="1.0"/>
<circle cx="288.90" cy="208.00" r="1.45" fill="#fff" stroke="#505050" stroke-width="1.0"/>
<circle cx="274.00" cy="209.50" r="1.45" fill="#fff" stroke="#505050" stroke-width="1.0"/>
<circle cx="278.90" cy="215.10" r="1.45" fill="#fff" stroke="#505050" stroke-width="1.0"/>
<circle cx="284.00" cy="217.30" r="1.45" fill="#fff" stroke="#505050" stroke-width="1.0"/>
<circle cx="278.90" cy="219.70" r="1.45" fill="#fff" stroke="#505050" stroke-width="1.0"/>
<circle cx="274.00" cy="224.10" r="1.45" fill="#fff" stroke="#505050" stroke-width="1.0"/>
<circle cx="278.90" cy="224.10" r="1.45" fill="#fff" stroke="#505050" stroke-width="1.0"/>
<circle cx="288.90" cy="224.10" r="1.45" fill="#fff" stroke="#505050" stroke-width="1.0"/>
<circle cx="284.00" cy="225.90" r="1.45" fill="#fff" stroke="#505050" stroke-width="1.0"/>
<circle cx="278.90" cy="229.50" r="1.45" fill="#fff" stroke="#505050" stroke-width="1.0"/>
<circle cx="284.00" cy="229.50" r="1.45" fill="#fff" stroke="#505050" stroke-width="1.0"/>
<circle cx="299.40" cy="206.10" r="1.45" fill="#fff" stroke="#505050" stroke-width="1.0"/>
<circle cx="297.00" cy="216.50" r="1.45" fill="#fff" stroke="#505050" stroke-width="1.0"/>
<circle cx="299.40" cy="216.50" r="1.45" fill="#fff" stroke="#505050" stroke-width="1.0"/>
<circle cx="302.00" cy="216.50" r="1.45" fill="#fff" stroke="#505050" stroke-width="1.0"/>
<circle cx="299.40" cy="222.20" r="1.45" fill="#fff" stroke="#505050" stroke-width="1.0"/>
<circle cx="297.00" cy="227.50" r="1.45" fill="#fff" stroke="#505050" stroke-width="1.0"/>
<circle cx="291.80" cy="229.50" r="1.45" fill="#fff" stroke="#505050" stroke-width="1.0"/>
<circle cx="301.80" cy="229.50" r="1.45" fill="#fff" stroke="#505050" stroke-width="1.0"/>
<circle cx="306.90" cy="229.50" r="1.45" fill="#fff" stroke="#505050" stroke-width="1.0"/>
<line x1="217.80" y1="249.80" x2="252.40" y2="249.80" stroke="#000" stroke-width="1.2" />
<line x1="269.70" y1="249.80" x2="305.80" y2="249.80" stroke="#000" stroke-width="1.2" />
<text transform="translate(235.30 258.60)" font-size="9.8" text-anchor="middle" font-weight="bold" fill="#000"  stroke="#000" stroke-width="0.18">CD</text>
<text transform="translate(288.00 258.60)" font-size="9.8" text-anchor="middle" font-weight="bold" fill="#000"  stroke="#000" stroke-width="0.18">WD</text>
<text transform="translate(177.60 209.70) rotate(-90)" font-size="9.8" text-anchor="middle" font-weight="bold" fill="#000"  stroke="#000" stroke-width="0.18">Serum triglycerides</text>
<text transform="translate(187.20 209.50) rotate(-90)" font-size="9.7" text-anchor="middle" font-weight="bold" fill="#000"  stroke="#000" stroke-width="0.18">(mg/dL)</text>
<line x1="376.80" y1="171.26" x2="376.80" y2="245.85" stroke="#000" stroke-width="1.3" />
<line x1="374.80" y1="171.91" x2="376.80" y2="171.91" stroke="#000" stroke-width="1.3" />
<text transform="translate(372.70 174.71)" font-size="8.1" text-anchor="end" font-weight="bold" fill="#000"  stroke="#000" stroke-width="0.18">15</text>
<line x1="374.80" y1="196.34" x2="376.80" y2="196.34" stroke="#000" stroke-width="1.3" />
<text transform="translate(372.70 199.14)" font-size="8.1" text-anchor="end" font-weight="bold" fill="#000"  stroke="#000" stroke-width="0.18">10</text>
<line x1="374.80" y1="220.77" x2="376.80" y2="220.77" stroke="#000" stroke-width="1.3" />
<text transform="translate(372.70 223.57)" font-size="8.1" text-anchor="end" font-weight="bold" fill="#000"  stroke="#000" stroke-width="0.18">5</text>
<line x1="374.80" y1="245.20" x2="376.80" y2="245.20" stroke="#000" stroke-width="1.3" />
<text transform="translate(372.70 248.00)" font-size="8.1" text-anchor="end" font-weight="bold" fill="#000"  stroke="#000" stroke-width="0.18">0</text>
<line x1="376.80" y1="245.20" x2="486.70" y2="245.20" stroke="#000" stroke-width="1.3" />
<rect x="385.90" y="234.60" width="18.50" height="10.60" fill="#000"/>
<rect x="404.40" y="231.00" width="18.20" height="14.20" fill="#BA00BE"/>
<rect x="440.50" y="201.90" width="19.00" height="43.30" fill="#000"/>
<rect x="459.50" y="211.90" width="18.40" height="33.30" fill="#BA00BE"/>
<line x1="395.00" y1="233.50" x2="395.00" y2="235.60" stroke="#555" stroke-width="1.0" />
<line x1="390.50" y1="233.50" x2="399.50" y2="233.50" stroke="#555" stroke-width="1.0" />
<line x1="413.50" y1="230.00" x2="413.50" y2="231.20" stroke="#555" stroke-width="1.0" />
<line x1="409.00" y1="230.00" x2="418.00" y2="230.00" stroke="#555" stroke-width="1.0" />
<line x1="450.00" y1="193.00" x2="450.00" y2="202.10" stroke="#555" stroke-width="1.0" />
<line x1="445.50" y1="193.00" x2="454.50" y2="193.00" stroke="#555" stroke-width="1.0" />
<line x1="468.30" y1="192.10" x2="468.30" y2="212.10" stroke="#555" stroke-width="1.0" />
<line x1="463.80" y1="192.10" x2="472.80" y2="192.10" stroke="#555" stroke-width="1.0" />
<circle cx="395.00" cy="228.00" r="1.45" fill="#fff" stroke="#505050" stroke-width="1.0"/>
<circle cx="389.50" cy="231.30" r="1.45" fill="#fff" stroke="#505050" stroke-width="1.0"/>
<circle cx="394.20" cy="231.70" r="1.45" fill="#fff" stroke="#505050" stroke-width="1.0"/>
<circle cx="400.80" cy="232.00" r="1.45" fill="#fff" stroke="#505050" stroke-width="1.0"/>
<circle cx="387.30" cy="234.20" r="1.45" fill="#fff" stroke="#505050" stroke-width="1.0"/>
<circle cx="391.70" cy="233.50" r="1.45" fill="#fff" stroke="#505050" stroke-width="1.0"/>
<circle cx="398.20" cy="233.10" r="1.45" fill="#fff" stroke="#505050" stroke-width="1.0"/>
<circle cx="403.00" cy="233.10" r="1.45" fill="#fff" stroke="#505050" stroke-width="1.0"/>
<circle cx="394.20" cy="235.10" r="1.45" fill="#fff" stroke="#505050" stroke-width="1.0"/>
<circle cx="391.70" cy="237.50" r="1.45" fill="#fff" stroke="#505050" stroke-width="1.0"/>
<circle cx="396.10" cy="237.50" r="1.45" fill="#fff" stroke="#505050" stroke-width="1.0"/>
<circle cx="398.60" cy="237.50" r="1.45" fill="#fff" stroke="#505050" stroke-width="1.0"/>
<circle cx="396.80" cy="234.60" r="1.45" fill="#fff" stroke="#505050" stroke-width="1.0"/>
<circle cx="405.80" cy="229.90" r="1.45" fill="#fff" stroke="#505050" stroke-width="1.0"/>
<circle cx="409.60" cy="229.90" r="1.45" fill="#fff" stroke="#505050" stroke-width="1.0"/>
<circle cx="413.40" cy="229.90" r="1.45" fill="#fff" stroke="#505050" stroke-width="1.0"/>
<circle cx="421.20" cy="229.90" r="1.45" fill="#fff" stroke="#505050" stroke-width="1.0"/>
<circle cx="409.60" cy="233.60" r="1.45" fill="#fff" stroke="#505050" stroke-width="1.0"/>
<circle cx="417.20" cy="232.40" r="1.45" fill="#fff" stroke="#505050" stroke-width="1.0"/>
<circle cx="452.50" cy="187.90" r="1.45" fill="#fff" stroke="#505050" stroke-width="1.0"/>
<circle cx="442.40" cy="191.60" r="1.45" fill="#fff" stroke="#505050" stroke-width="1.0"/>
<circle cx="447.50" cy="190.90" r="1.45" fill="#fff" stroke="#505050" stroke-width="1.0"/>
<circle cx="452.50" cy="190.90" r="1.45" fill="#fff" stroke="#505050" stroke-width="1.0"/>
<circle cx="457.60" cy="191.60" r="1.45" fill="#fff" stroke="#505050" stroke-width="1.0"/>
<circle cx="452.50" cy="193.60" r="1.45" fill="#fff" stroke="#505050" stroke-width="1.0"/>
<circle cx="442.40" cy="196.80" r="1.45" fill="#fff" stroke="#505050" stroke-width="1.0"/>
<circle cx="447.50" cy="198.60" r="1.45" fill="#fff" stroke="#505050" stroke-width="1.0"/>
<circle cx="452.50" cy="198.00" r="1.45" fill="#fff" stroke="#505050" stroke-width="1.0"/>
<circle cx="457.60" cy="201.90" r="1.45" fill="#fff" stroke="#505050" stroke-width="1.0"/>
<circle cx="452.50" cy="202.60" r="1.45" fill="#fff" stroke="#505050" stroke-width="1.0"/>
<circle cx="447.50" cy="204.50" r="1.45" fill="#fff" stroke="#505050" stroke-width="1.0"/>
<circle cx="452.50" cy="206.90" r="1.45" fill="#fff" stroke="#505050" stroke-width="1.0"/>
<circle cx="447.50" cy="217.40" r="1.45" fill="#fff" stroke="#505050" stroke-width="1.0"/>
<circle cx="452.50" cy="219.70" r="1.45" fill="#fff" stroke="#505050" stroke-width="1.0"/>
<circle cx="450.10" cy="223.80" r="1.45" fill="#fff" stroke="#505050" stroke-width="1.0"/>
<circle cx="468.30" cy="178.80" r="1.45" fill="#fff" stroke="#505050" stroke-width="1.0"/>
<circle cx="468.30" cy="194.90" r="1.45" fill="#fff" stroke="#505050" stroke-width="1.0"/>
<circle cx="468.30" cy="197.30" r="1.45" fill="#fff" stroke="#505050" stroke-width="1.0"/>
<circle cx="468.30" cy="214.80" r="1.45" fill="#fff" stroke="#505050" stroke-width="1.0"/>
<circle cx="468.30" cy="218.80" r="1.45" fill="#fff" stroke="#505050" stroke-width="1.0"/>
<circle cx="465.30" cy="227.60" r="1.45" fill="#fff" stroke="#505050" stroke-width="1.0"/>
<circle cx="471.20" cy="229.90" r="1.45" fill="#fff" stroke="#505050" stroke-width="1.0"/>
<circle cx="468.30" cy="234.80" r="1.45" fill="#fff" stroke="#505050" stroke-width="1.0"/>
<line x1="392.80" y1="249.70" x2="427.10" y2="249.70" stroke="#222" stroke-width="1.2" />
<line x1="444.50" y1="249.70" x2="480.70" y2="249.70" stroke="#000" stroke-width="1.2" />
<text transform="translate(410.30 258.60)" font-size="9.8" text-anchor="middle" font-weight="bold" fill="#000"  stroke="#000" stroke-width="0.18">CD</text>
<text transform="translate(463.00 258.60)" font-size="9.8" text-anchor="middle" font-weight="bold" fill="#000"  stroke="#000" stroke-width="0.18">WD</text>
<line x1="413.40" y1="162.80" x2="468.30" y2="162.80" stroke="#222" stroke-width="1.3" />
<line x1="395.20" y1="178.20" x2="449.80" y2="178.20" stroke="#222" stroke-width="1.3" />
<text transform="translate(441.00 162.60)" font-size="8.6" text-anchor="middle" font-weight="bold" fill="#000" >*</text>
<text transform="translate(423.40 178.10)" font-size="8.6" text-anchor="middle" font-weight="bold" fill="#000" letter-spacing="0.85">****</text>
<text transform="translate(353.20 207.80) rotate(-90)" font-size="9.8" text-anchor="middle" font-weight="bold" fill="#000"  stroke="#000" stroke-width="0.18">Serum cholesterol</text>
<text transform="translate(361.80 208.20) rotate(-90)" font-size="9.8" text-anchor="middle" font-weight="bold" fill="#000"  stroke="#000" stroke-width="0.18">(mmol/l)</text>
<rect x="570.90" y="194.60" width="14.60" height="8.60" fill="#000"/>
<rect x="573.80" y="197.20" width="9.60" height="2.60" fill="#1e1e1e"/>
<rect x="570.90" y="212.30" width="14.60" height="8.20" fill="#BA00BE"/>
<text transform="translate(588.10 202.00)" font-size="10.1" text-anchor="start" font-weight="bold" fill="#000"  stroke="#000" stroke-width="0.18">WT</text>
<text transform="translate(589.00 220.20)" font-size="9.6" text-anchor="start" font-weight="bold" fill="#000"  stroke="#000" stroke-width="0.18">ICAM-1<tspan dy="-5.4" font-size="9.8">tmBay</tspan></text>
<line x1="67.60" y1="273.35" x2="67.60" y2="437.65" stroke="#000" stroke-width="1.3" />
<line x1="65.30" y1="274.00" x2="67.60" y2="274.00" stroke="#000" stroke-width="1.3" />
<text transform="translate(61.50 276.80)" font-size="7.8" text-anchor="end" font-weight="bold" fill="#000"  stroke="#000" stroke-width="0.18">400</text>
<line x1="65.30" y1="314.75" x2="67.60" y2="314.75" stroke="#000" stroke-width="1.3" />
<text transform="translate(61.50 317.55)" font-size="7.8" text-anchor="end" font-weight="bold" fill="#000"  stroke="#000" stroke-width="0.18">300</text>
<line x1="65.30" y1="355.50" x2="67.60" y2="355.50" stroke="#000" stroke-width="1.3" />
<text transform="translate(61.50 358.30)" font-size="7.8" text-anchor="end" font-weight="bold" fill="#000"  stroke="#000" stroke-width="0.18">200</text>
<line x1="65.30" y1="396.25" x2="67.60" y2="396.25" stroke="#000" stroke-width="1.3" />
<text transform="translate(61.50 399.05)" font-size="7.8" text-anchor="end" font-weight="bold" fill="#000"  stroke="#000" stroke-width="0.18">100</text>
<line x1="65.30" y1="437.00" x2="67.60" y2="437.00" stroke="#000" stroke-width="1.3" />
<text transform="translate(61.50 439.80)" font-size="7.8" text-anchor="end" font-weight="bold" fill="#000"  stroke="#000" stroke-width="0.18">0</text>
<line x1="67.60" y1="437.00" x2="456.40" y2="437.00" stroke="#000" stroke-width="1.3" />
<text transform="translate(40.30 355.50) rotate(-90)" font-size="8.6" text-anchor="middle" font-weight="bold" fill="#000"  stroke="#000" stroke-width="0.18">ng/ml</text>
<rect x="74.80" y="433.74" width="14.30" height="3.26" fill="#000"/>
<line x1="81.95" y1="431.50" x2="81.95" y2="433.74" stroke="#555" stroke-width="0.9" />
<line x1="78.70" y1="431.50" x2="85.20" y2="431.50" stroke="#555" stroke-width="0.9" />
<rect x="96.00" y="418.66" width="14.30" height="18.34" fill="#BA00BE"/>
<line x1="103.15" y1="404.60" x2="103.15" y2="418.66" stroke="#555" stroke-width="0.9" />
<line x1="99.90" y1="404.60" x2="106.40" y2="404.60" stroke="#555" stroke-width="0.9" />
<rect x="117.20" y="430.48" width="14.30" height="6.52" fill="#000"/>
<line x1="124.35" y1="426.50" x2="124.35" y2="430.48" stroke="#555" stroke-width="0.9" />
<line x1="121.10" y1="426.50" x2="127.60" y2="426.50" stroke="#555" stroke-width="0.9" />
<rect x="138.40" y="391.36" width="14.30" height="45.64" fill="#BA00BE"/>
<line x1="145.55" y1="353.70" x2="145.55" y2="391.36" stroke="#555" stroke-width="0.9" />
<line x1="142.30" y1="353.70" x2="148.80" y2="353.70" stroke="#555" stroke-width="0.9" />
<rect x="173.30" y="430.07" width="14.30" height="6.93" fill="#000"/>
<line x1="180.45" y1="426.50" x2="180.45" y2="430.07" stroke="#555" stroke-width="0.9" />
<line x1="177.20" y1="426.50" x2="183.70" y2="426.50" stroke="#555" stroke-width="0.9" />
<rect x="194.50" y="431.70" width="14.30" height="5.30" fill="#BA00BE"/>
<line x1="201.65" y1="428.00" x2="201.65" y2="431.70" stroke="#555" stroke-width="0.9" />
<line x1="198.40" y1="428.00" x2="204.90" y2="428.00" stroke="#555" stroke-width="0.9" />
<rect x="215.70" y="413.77" width="14.30" height="23.23" fill="#000"/>
<line x1="222.85" y1="403.00" x2="222.85" y2="413.77" stroke="#555" stroke-width="0.9" />
<line x1="219.60" y1="403.00" x2="226.10" y2="403.00" stroke="#555" stroke-width="0.9" />
<rect x="236.90" y="419.88" width="14.30" height="17.12" fill="#BA00BE"/>
<line x1="244.05" y1="415.00" x2="244.05" y2="419.88" stroke="#555" stroke-width="0.9" />
<line x1="240.80" y1="415.00" x2="247.30" y2="415.00" stroke="#555" stroke-width="0.9" />
<rect x="272.20" y="430.89" width="14.30" height="6.11" fill="#000"/>
<line x1="279.35" y1="426.50" x2="279.35" y2="430.89" stroke="#555" stroke-width="0.9" />
<line x1="276.10" y1="426.50" x2="282.60" y2="426.50" stroke="#555" stroke-width="0.9" />
<rect x="314.60" y="431.70" width="14.30" height="5.30" fill="#000"/>
<line x1="321.75" y1="424.00" x2="321.75" y2="431.70" stroke="#555" stroke-width="0.9" />
<line x1="318.50" y1="424.00" x2="325.00" y2="424.00" stroke="#555" stroke-width="0.9" />
<rect x="335.80" y="430.48" width="14.30" height="6.52" fill="#BA00BE"/>
<line x1="342.95" y1="426.00" x2="342.95" y2="430.48" stroke="#555" stroke-width="0.9" />
<line x1="339.70" y1="426.00" x2="346.20" y2="426.00" stroke="#555" stroke-width="0.9" />
<rect x="371.10" y="434.15" width="14.30" height="2.85" fill="#000"/>
<rect x="413.50" y="431.30" width="14.30" height="5.70" fill="#000"/>
<line x1="420.65" y1="428.50" x2="420.65" y2="431.30" stroke="#555" stroke-width="0.9" />
<line x1="417.40" y1="428.50" x2="423.90" y2="428.50" stroke="#555" stroke-width="0.9" />
<rect x="434.70" y="411.74" width="14.30" height="25.26" fill="#BA00BE"/>
<line x1="441.85" y1="383.60" x2="441.85" y2="411.74" stroke="#555" stroke-width="0.9" />
<line x1="438.60" y1="383.60" x2="445.10" y2="383.60" stroke="#555" stroke-width="0.9" />
<line x1="79.60" y1="440.10" x2="111.70" y2="440.10" stroke="#bdbdbd" stroke-width="1.2" />
<line x1="117.40" y1="440.10" x2="149.30" y2="440.10" stroke="#bdbdbd" stroke-width="1.2" />
<text transform="translate(95.75 449.20)" font-size="9.2" text-anchor="middle" font-weight="bold" fill="#000"  stroke="#000" stroke-width="0.18">CD</text>
<text transform="translate(133.55 449.20)" font-size="9.2" text-anchor="middle" font-weight="bold" fill="#000"  stroke="#000" stroke-width="0.18">WD</text>
<line x1="76.60" y1="451.50" x2="158.10" y2="451.50" stroke="#000" stroke-width="1.2" />
<text transform="translate(117.60 461.40)" font-size="9.2" text-anchor="middle" font-weight="bold" fill="#000"  stroke="#000" stroke-width="0.18">TNFA</text>
<line x1="178.10" y1="440.10" x2="210.30" y2="440.10" stroke="#bdbdbd" stroke-width="1.2" />
<line x1="216.30" y1="440.10" x2="248.30" y2="440.10" stroke="#bdbdbd" stroke-width="1.2" />
<text transform="translate(194.90 449.20)" font-size="9.2" text-anchor="middle" font-weight="bold" fill="#000"  stroke="#000" stroke-width="0.18">CD</text>
<text transform="translate(232.10 449.20)" font-size="9.2" text-anchor="middle" font-weight="bold" fill="#000"  stroke="#000" stroke-width="0.18">WD</text>
<line x1="172.10" y1="451.50" x2="254.50" y2="451.50" stroke="#000" stroke-width="1.2" />
<text transform="translate(213.00 461.40)" font-size="9.2" text-anchor="middle" font-weight="bold" fill="#000"  stroke="#000" stroke-width="0.18">MCP1</text>
<line x1="274.30" y1="440.10" x2="306.40" y2="440.10" stroke="#bdbdbd" stroke-width="1.2" />
<line x1="312.30" y1="440.10" x2="343.90" y2="440.10" stroke="#bdbdbd" stroke-width="1.2" />
<text transform="translate(290.65 449.20)" font-size="9.2" text-anchor="middle" font-weight="bold" fill="#000"  stroke="#000" stroke-width="0.18">CD</text>
<text transform="translate(328.10 449.20)" font-size="9.2" text-anchor="middle" font-weight="bold" fill="#000"  stroke="#000" stroke-width="0.18">WD</text>
<line x1="268.40" y1="451.50" x2="350.50" y2="451.50" stroke="#000" stroke-width="1.2" />
<text transform="translate(306.50 461.40)" font-size="9.2" text-anchor="middle" font-weight="bold" fill="#000"  stroke="#000" stroke-width="0.18">IL1B</text>
<line x1="377.20" y1="440.10" x2="408.10" y2="440.10" stroke="#bdbdbd" stroke-width="1.2" />
<line x1="415.20" y1="440.10" x2="446.40" y2="440.10" stroke="#bdbdbd" stroke-width="1.2" />
<text transform="translate(393.35 449.20)" font-size="9.2" text-anchor="middle" font-weight="bold" fill="#000"  stroke="#000" stroke-width="0.18">CD</text>
<text transform="translate(431.10 449.20)" font-size="9.2" text-anchor="middle" font-weight="bold" fill="#000"  stroke="#000" stroke-width="0.18">WD</text>
<line x1="371.10" y1="451.50" x2="453.00" y2="451.50" stroke="#000" stroke-width="1.2" />
<text transform="translate(405.75 461.40)" font-size="9.2" text-anchor="middle" font-weight="bold" fill="#000"  stroke="#000" stroke-width="0.18">IL6</text>
<circle cx="81.50" cy="429.80" r="0.95" fill="#fff" stroke="#505050" stroke-width="0.75"/>
<circle cx="77.90" cy="433.10" r="0.95" fill="#fff" stroke="#505050" stroke-width="0.75"/>
<circle cx="80.50" cy="433.10" r="0.95" fill="#fff" stroke="#505050" stroke-width="0.75"/>
<circle cx="83.80" cy="433.10" r="0.95" fill="#fff" stroke="#505050" stroke-width="0.75"/>
<circle cx="87.70" cy="433.10" r="0.95" fill="#fff" stroke="#505050" stroke-width="0.75"/>
<circle cx="75.60" cy="434.40" r="0.95" fill="#fff" stroke="#505050" stroke-width="0.75"/>
<circle cx="79.20" cy="435.10" r="0.95" fill="#fff" stroke="#505050" stroke-width="0.75"/>
<circle cx="82.50" cy="435.10" r="0.95" fill="#fff" stroke="#505050" stroke-width="0.75"/>
<circle cx="86.40" cy="435.10" r="0.95" fill="#fff" stroke="#505050" stroke-width="0.75"/>
<circle cx="77.90" cy="436.40" r="0.95" fill="#fff" stroke="#505050" stroke-width="0.75"/>
<circle cx="83.10" cy="436.40" r="0.95" fill="#fff" stroke="#505050" stroke-width="0.75"/>
<circle cx="102.80" cy="406.20" r="0.95" fill="#fff" stroke="#505050" stroke-width="0.75"/>
<circle cx="100.90" cy="409.50" r="0.95" fill="#fff" stroke="#505050" stroke-width="0.75"/>
<circle cx="102.80" cy="409.50" r="0.95" fill="#fff" stroke="#505050" stroke-width="0.75"/>
<circle cx="104.80" cy="409.50" r="0.95" fill="#fff" stroke="#505050" stroke-width="0.75"/>
<circle cx="102.80" cy="411.40" r="0.95" fill="#fff" stroke="#505050" stroke-width="0.75"/>
<circle cx="100.90" cy="436.40" r="0.95" fill="#fff" stroke="#505050" stroke-width="0.75"/>
<circle cx="105.10" cy="435.70" r="0.95" fill="#fff" stroke="#505050" stroke-width="0.75"/>
<circle cx="124.20" cy="420.90" r="0.95" fill="#fff" stroke="#505050" stroke-width="0.75"/>
<circle cx="124.20" cy="423.30" r="0.95" fill="#fff" stroke="#505050" stroke-width="0.75"/>
<circle cx="122.50" cy="425.50" r="0.95" fill="#fff" stroke="#505050" stroke-width="0.75"/>
<circle cx="124.20" cy="425.50" r="0.95" fill="#fff" stroke="#505050" stroke-width="0.75"/>
<circle cx="125.80" cy="425.50" r="0.95" fill="#fff" stroke="#505050" stroke-width="0.75"/>
<circle cx="124.20" cy="427.90" r="0.95" fill="#fff" stroke="#505050" stroke-width="0.75"/>
<circle cx="127.40" cy="428.90" r="0.95" fill="#fff" stroke="#505050" stroke-width="0.75"/>
<circle cx="124.20" cy="430.50" r="0.95" fill="#fff" stroke="#505050" stroke-width="0.75"/>
<circle cx="118.60" cy="433.50" r="0.95" fill="#fff" stroke="#505050" stroke-width="0.75"/>
<circle cx="121.90" cy="433.50" r="0.95" fill="#fff" stroke="#505050" stroke-width="0.75"/>
<circle cx="125.20" cy="433.50" r="0.95" fill="#fff" stroke="#505050" stroke-width="0.75"/>
<circle cx="129.10" cy="433.50" r="0.95" fill="#fff" stroke="#505050" stroke-width="0.75"/>
<circle cx="118.60" cy="435.70" r="0.95" fill="#fff" stroke="#505050" stroke-width="0.75"/>
<circle cx="123.20" cy="435.70" r="0.95" fill="#fff" stroke="#505050" stroke-width="0.75"/>
<circle cx="127.10" cy="435.70" r="0.95" fill="#fff" stroke="#505050" stroke-width="0.75"/>
<circle cx="129.80" cy="435.70" r="0.95" fill="#fff" stroke="#505050" stroke-width="0.75"/>
<circle cx="120.60" cy="431.80" r="0.95" fill="#fff" stroke="#505050" stroke-width="0.75"/>
<circle cx="145.30" cy="402.20" r="0.95" fill="#fff" stroke="#505050" stroke-width="0.75"/>
<circle cx="145.30" cy="405.10" r="0.95" fill="#fff" stroke="#505050" stroke-width="0.75"/>
<circle cx="143.20" cy="411.20" r="0.95" fill="#fff" stroke="#505050" stroke-width="0.75"/>
<circle cx="147.20" cy="412.50" r="0.95" fill="#fff" stroke="#505050" stroke-width="0.75"/>
<circle cx="145.30" cy="419.60" r="0.95" fill="#fff" stroke="#505050" stroke-width="0.75"/>
<circle cx="145.30" cy="379.00" r="0.95" fill="#fff" stroke="#505050" stroke-width="0.75"/>
<circle cx="145.10" cy="311.40" r="0.95" fill="#fff" stroke="#505050" stroke-width="0.75"/>
<circle cx="180.50" cy="420.50" r="0.95" fill="#fff" stroke="#505050" stroke-width="0.75"/>
<circle cx="176.90" cy="427.30" r="0.95" fill="#fff" stroke="#505050" stroke-width="0.75"/>
<circle cx="180.50" cy="427.30" r="0.95" fill="#fff" stroke="#505050" stroke-width="0.75"/>
<circle cx="184.40" cy="428.10" r="0.95" fill="#fff" stroke="#505050" stroke-width="0.75"/>
<circle cx="176.90" cy="429.70" r="0.95" fill="#fff" stroke="#505050" stroke-width="0.75"/>
<circle cx="180.50" cy="431.60" r="0.95" fill="#fff" stroke="#505050" stroke-width="0.75"/>
<circle cx="180.50" cy="434.70" r="0.95" fill="#fff" stroke="#505050" stroke-width="0.75"/>
<circle cx="176.50" cy="435.60" r="0.95" fill="#fff" stroke="#505050" stroke-width="0.75"/>
<circle cx="184.40" cy="434.90" r="0.95" fill="#fff" stroke="#505050" stroke-width="0.75"/>
<circle cx="199.50" cy="427.70" r="0.95" fill="#fff" stroke="#505050" stroke-width="0.75"/>
<circle cx="203.50" cy="427.30" r="0.95" fill="#fff" stroke="#505050" stroke-width="0.75"/>
<circle cx="195.60" cy="434.70" r="0.95" fill="#fff" stroke="#505050" stroke-width="0.75"/>
<circle cx="199.50" cy="433.60" r="0.95" fill="#fff" stroke="#505050" stroke-width="0.75"/>
<circle cx="203.70" cy="434.70" r="0.95" fill="#fff" stroke="#505050" stroke-width="0.75"/>
<circle cx="207.40" cy="434.30" r="0.95" fill="#fff" stroke="#505050" stroke-width="0.75"/>
<circle cx="222.90" cy="389.90" r="0.95" fill="#fff" stroke="#505050" stroke-width="0.75"/>
<circle cx="222.90" cy="399.10" r="0.95" fill="#fff" stroke="#505050" stroke-width="0.75"/>
<circle cx="221.20" cy="409.00" r="0.95" fill="#fff" stroke="#505050" stroke-width="0.75"/>
<circle cx="222.90" cy="409.00" r="0.95" fill="#fff" stroke="#505050" stroke-width="0.75"/>
<circle cx="224.50" cy="409.00" r="0.95" fill="#fff" stroke="#505050" stroke-width="0.75"/>
<circle cx="217.30" cy="411.90" r="0.95" fill="#fff" stroke="#505050" stroke-width="0.75"/>
<circle cx="219.90" cy="412.30" r="0.95" fill="#fff" stroke="#505050" stroke-width="0.75"/>
<circle cx="222.90" cy="412.80" r="0.95" fill="#fff" stroke="#505050" stroke-width="0.75"/>
<circle cx="225.80" cy="412.30" r="0.95" fill="#fff" stroke="#505050" stroke-width="0.75"/>
<circle cx="228.70" cy="411.90" r="0.95" fill="#fff" stroke="#505050" stroke-width="0.75"/>
<circle cx="221.20" cy="419.60" r="0.95" fill="#fff" stroke="#505050" stroke-width="0.75"/>
<circle cx="224.50" cy="419.60" r="0.95" fill="#fff" stroke="#505050" stroke-width="0.75"/>
<circle cx="222.90" cy="423.50" r="0.95" fill="#fff" stroke="#505050" stroke-width="0.75"/>
<circle cx="221.20" cy="430.60" r="0.95" fill="#fff" stroke="#505050" stroke-width="0.75"/>
<circle cx="224.50" cy="430.60" r="0.95" fill="#fff" stroke="#505050" stroke-width="0.75"/>
<circle cx="240.00" cy="416.50" r="0.95" fill="#fff" stroke="#505050" stroke-width="0.75"/>
<circle cx="244.20" cy="415.90" r="0.95" fill="#fff" stroke="#505050" stroke-width="0.75"/>
<circle cx="248.40" cy="416.50" r="0.95" fill="#fff" stroke="#505050" stroke-width="0.75"/>
<circle cx="240.00" cy="420.20" r="0.95" fill="#fff" stroke="#505050" stroke-width="0.75"/>
<circle cx="248.40" cy="421.10" r="0.95" fill="#fff" stroke="#505050" stroke-width="0.75"/>
<circle cx="244.20" cy="422.50" r="0.95" fill="#fff" stroke="#505050" stroke-width="0.75"/>
<circle cx="246.60" cy="424.40" r="0.95" fill="#fff" stroke="#505050" stroke-width="0.75"/>
<circle cx="242.00" cy="425.50" r="0.95" fill="#fff" stroke="#505050" stroke-width="0.75"/>
<circle cx="279.40" cy="419.30" r="0.95" fill="#fff" stroke="#505050" stroke-width="0.75"/>
<circle cx="279.40" cy="426.50" r="0.95" fill="#fff" stroke="#505050" stroke-width="0.75"/>
<circle cx="273.50" cy="430.70" r="0.95" fill="#fff" stroke="#505050" stroke-width="0.75"/>
<circle cx="276.50" cy="433.10" r="0.95" fill="#fff" stroke="#505050" stroke-width="0.75"/>
<circle cx="279.40" cy="433.10" r="0.95" fill="#fff" stroke="#505050" stroke-width="0.75"/>
<circle cx="282.40" cy="433.10" r="0.95" fill="#fff" stroke="#505050" stroke-width="0.75"/>
<circle cx="285.40" cy="433.10" r="0.95" fill="#fff" stroke="#505050" stroke-width="0.75"/>
<circle cx="276.50" cy="435.70" r="0.95" fill="#fff" stroke="#505050" stroke-width="0.75"/>
<circle cx="279.40" cy="435.70" r="0.95" fill="#fff" stroke="#505050" stroke-width="0.75"/>
<circle cx="282.40" cy="435.70" r="0.95" fill="#fff" stroke="#505050" stroke-width="0.75"/>
<circle cx="294.60" cy="435.70" r="0.95" fill="#fff" stroke="#505050" stroke-width="0.75"/>
<circle cx="297.50" cy="435.70" r="0.95" fill="#fff" stroke="#505050" stroke-width="0.75"/>
<circle cx="300.60" cy="435.70" r="0.95" fill="#fff" stroke="#505050" stroke-width="0.75"/>
<circle cx="303.70" cy="435.70" r="0.95" fill="#fff" stroke="#505050" stroke-width="0.75"/>
<circle cx="306.70" cy="435.70" r="0.95" fill="#fff" stroke="#505050" stroke-width="0.75"/>
<circle cx="321.80" cy="412.10" r="0.95" fill="#fff" stroke="#505050" stroke-width="0.75"/>
<circle cx="324.70" cy="430.70" r="0.95" fill="#fff" stroke="#505050" stroke-width="0.75"/>
<circle cx="316.60" cy="433.10" r="0.95" fill="#fff" stroke="#505050" stroke-width="0.75"/>
<circle cx="319.20" cy="433.10" r="0.95" fill="#fff" stroke="#505050" stroke-width="0.75"/>
<circle cx="321.80" cy="433.10" r="0.95" fill="#fff" stroke="#505050" stroke-width="0.75"/>
<circle cx="324.70" cy="433.10" r="0.95" fill="#fff" stroke="#505050" stroke-width="0.75"/>
<circle cx="327.50" cy="433.10" r="0.95" fill="#fff" stroke="#505050" stroke-width="0.75"/>
<circle cx="316.60" cy="435.70" r="0.95" fill="#fff" stroke="#505050" stroke-width="0.75"/>
<circle cx="319.20" cy="435.70" r="0.95" fill="#fff" stroke="#505050" stroke-width="0.75"/>
<circle cx="321.80" cy="435.70" r="0.95" fill="#fff" stroke="#505050" stroke-width="0.75"/>
<circle cx="324.70" cy="435.70" r="0.95" fill="#fff" stroke="#505050" stroke-width="0.75"/>
<circle cx="327.50" cy="435.70" r="0.95" fill="#fff" stroke="#505050" stroke-width="0.75"/>
<circle cx="344.80" cy="421.30" r="0.95" fill="#fff" stroke="#505050" stroke-width="0.75"/>
<circle cx="340.90" cy="423.30" r="0.95" fill="#fff" stroke="#505050" stroke-width="0.75"/>
<circle cx="342.90" cy="425.50" r="0.95" fill="#fff" stroke="#505050" stroke-width="0.75"/>
<circle cx="344.80" cy="425.50" r="0.95" fill="#fff" stroke="#505050" stroke-width="0.75"/>
<circle cx="342.90" cy="429.80" r="0.95" fill="#fff" stroke="#505050" stroke-width="0.75"/>
<circle cx="337.00" cy="436.00" r="0.95" fill="#fff" stroke="#505050" stroke-width="0.75"/>
<circle cx="340.90" cy="436.00" r="0.95" fill="#fff" stroke="#505050" stroke-width="0.75"/>
<circle cx="344.80" cy="436.00" r="0.95" fill="#fff" stroke="#505050" stroke-width="0.75"/>
<circle cx="349.00" cy="436.00" r="0.95" fill="#fff" stroke="#505050" stroke-width="0.75"/>
<circle cx="373.50" cy="431.10" r="0.95" fill="#fff" stroke="#505050" stroke-width="0.75"/>
<circle cx="376.60" cy="431.10" r="0.95" fill="#fff" stroke="#505050" stroke-width="0.75"/>
<circle cx="379.50" cy="431.10" r="0.95" fill="#fff" stroke="#505050" stroke-width="0.75"/>
<circle cx="382.50" cy="431.10" r="0.95" fill="#fff" stroke="#505050" stroke-width="0.75"/>
<circle cx="372.20" cy="436.00" r="0.95" fill="#fff" stroke="#505050" stroke-width="0.75"/>
<circle cx="375.20" cy="436.00" r="0.95" fill="#fff" stroke="#505050" stroke-width="0.75"/>
<circle cx="378.10" cy="436.00" r="0.95" fill="#fff" stroke="#505050" stroke-width="0.75"/>
<circle cx="381.40" cy="436.00" r="0.95" fill="#fff" stroke="#505050" stroke-width="0.75"/>
<circle cx="384.40" cy="436.00" r="0.95" fill="#fff" stroke="#505050" stroke-width="0.75"/>
<circle cx="393.60" cy="436.00" r="0.95" fill="#fff" stroke="#505050" stroke-width="0.75"/>
<circle cx="396.50" cy="436.00" r="0.95" fill="#fff" stroke="#505050" stroke-width="0.75"/>
<circle cx="399.60" cy="436.00" r="0.95" fill="#fff" stroke="#505050" stroke-width="0.75"/>
<circle cx="402.70" cy="436.00" r="0.95" fill="#fff" stroke="#505050" stroke-width="0.75"/>
<circle cx="405.70" cy="436.00" r="0.95" fill="#fff" stroke="#505050" stroke-width="0.75"/>
<circle cx="420.50" cy="420.00" r="0.95" fill="#fff" stroke="#505050" stroke-width="0.75"/>
<circle cx="414.70" cy="431.10" r="0.95" fill="#fff" stroke="#505050" stroke-width="0.75"/>
<circle cx="417.60" cy="430.20" r="0.95" fill="#fff" stroke="#505050" stroke-width="0.75"/>
<circle cx="420.80" cy="430.50" r="0.95" fill="#fff" stroke="#505050" stroke-width="0.75"/>
<circle cx="424.10" cy="431.10" r="0.95" fill="#fff" stroke="#505050" stroke-width="0.75"/>
<circle cx="414.70" cy="433.80" r="0.95" fill="#fff" stroke="#505050" stroke-width="0.75"/>
<circle cx="417.60" cy="433.80" r="0.95" fill="#fff" stroke="#505050" stroke-width="0.75"/>
<circle cx="420.80" cy="433.80" r="0.95" fill="#fff" stroke="#505050" stroke-width="0.75"/>
<circle cx="424.10" cy="433.80" r="0.95" fill="#fff" stroke="#505050" stroke-width="0.75"/>
<circle cx="414.70" cy="436.00" r="0.95" fill="#fff" stroke="#505050" stroke-width="0.75"/>
<circle cx="417.60" cy="436.00" r="0.95" fill="#fff" stroke="#505050" stroke-width="0.75"/>
<circle cx="420.80" cy="436.00" r="0.95" fill="#fff" stroke="#505050" stroke-width="0.75"/>
<circle cx="423.70" cy="436.00" r="0.95" fill="#fff" stroke="#505050" stroke-width="0.75"/>
<circle cx="426.50" cy="436.00" r="0.95" fill="#fff" stroke="#505050" stroke-width="0.75"/>
<circle cx="441.90" cy="414.70" r="0.95" fill="#fff" stroke="#505050" stroke-width="0.75"/>
<circle cx="441.90" cy="417.60" r="0.95" fill="#fff" stroke="#505050" stroke-width="0.75"/>
<circle cx="441.90" cy="421.90" r="0.95" fill="#fff" stroke="#505050" stroke-width="0.75"/>
<circle cx="441.90" cy="433.80" r="0.95" fill="#fff" stroke="#505050" stroke-width="0.75"/>
<circle cx="439.90" cy="436.00" r="0.95" fill="#fff" stroke="#505050" stroke-width="0.75"/>
<circle cx="443.80" cy="436.00" r="0.95" fill="#fff" stroke="#505050" stroke-width="0.75"/>
<circle cx="441.50" cy="366.30" r="0.95" fill="#fff" stroke="#505050" stroke-width="0.75"/>
<circle cx="441.50" cy="370.60" r="0.95" fill="#fff" stroke="#505050" stroke-width="0.75"/>
<line x1="103.20" y1="289.30" x2="145.10" y2="289.30" stroke="#222" stroke-width="1.3" />
<text transform="translate(124.70 288.00)" font-size="11.5" text-anchor="middle" font-weight="bold" fill="#000" letter-spacing="1.3">***</text>
<line x1="124.10" y1="305.10" x2="145.10" y2="305.10" stroke="#222" stroke-width="1.3" />
<text transform="translate(135.60 303.30)" font-size="11.5" text-anchor="middle" font-weight="bold" fill="#000" letter-spacing="1.3">****</text>
<line x1="180.50" y1="381.20" x2="222.90" y2="381.20" stroke="#222" stroke-width="1.3" />
<text transform="translate(202.30 380.30)" font-size="11.5" text-anchor="middle" font-weight="bold" fill="#000" letter-spacing="1.3">**</text>
<line x1="399.40" y1="343.90" x2="441.80" y2="343.90" stroke="#222" stroke-width="1.5" />
<text transform="translate(421.20 342.40)" font-size="11.5" text-anchor="middle" font-weight="bold" fill="#000" letter-spacing="1.3">**</text>
<line x1="420.70" y1="359.20" x2="441.80" y2="359.20" stroke="#222" stroke-width="1.3" />
<text transform="translate(432.00 357.80)" font-size="11.5" text-anchor="middle" font-weight="bold" fill="#000" letter-spacing="1.3">**</text>
</svg>
</body></html>
